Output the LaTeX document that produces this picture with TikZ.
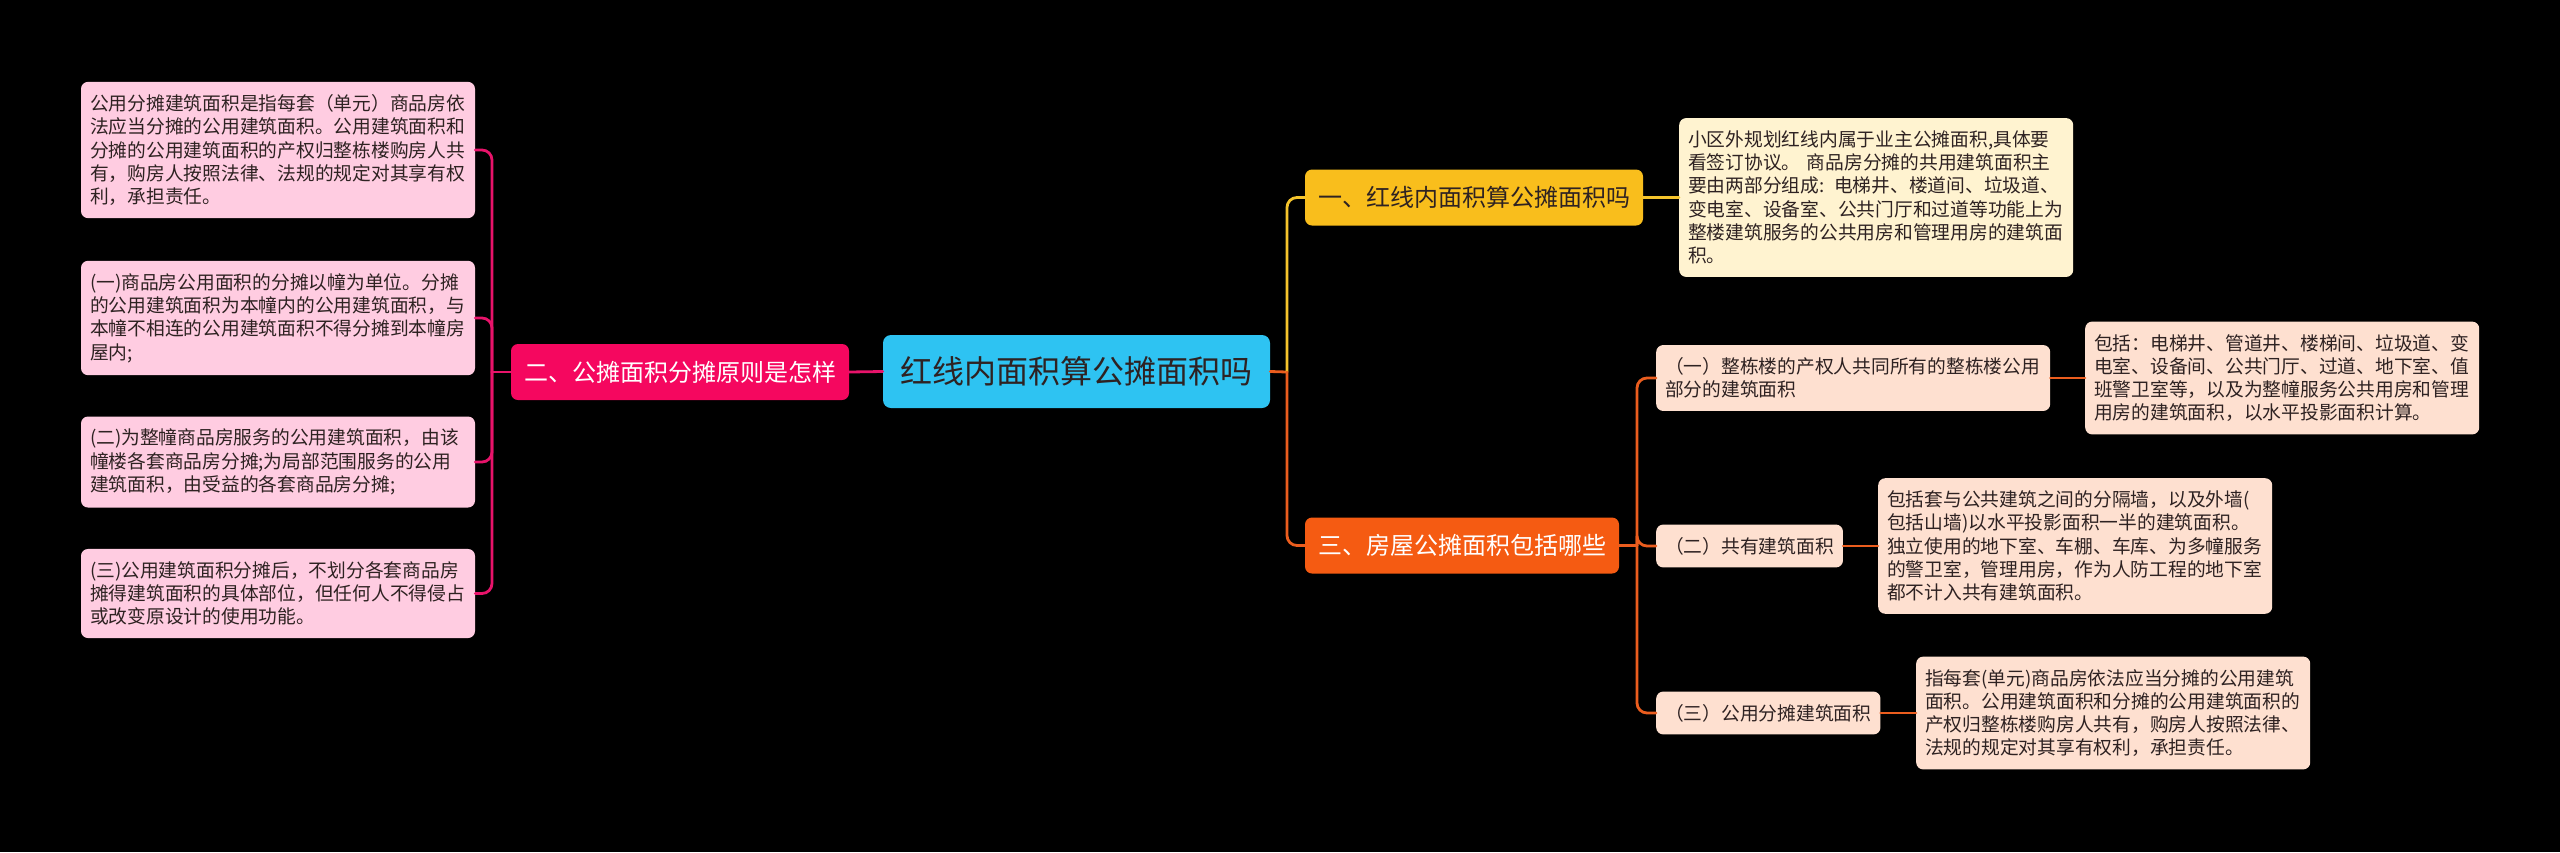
\documentclass[tikz,border=0pt]{standalone}
\usepackage{fontspec}
\setmainfont{Noto Sans CJK SC}
\definecolor{cyanc}{HTML}{2EC3F2}
\definecolor{pinkb}{HTML}{F5075F}
\definecolor{pinkl}{HTML}{E8136A}
\definecolor{pinkbox}{HTML}{FFCCE1}
\definecolor{yelb}{HTML}{F9BE1C}
\definecolor{yell}{HTML}{F5C42C}
\definecolor{yelbox}{HTML}{FFF3D0}
\definecolor{orab}{HTML}{F55B12}
\definecolor{oral}{HTML}{EB5D1E}
\definecolor{peach}{HTML}{FEE0D0}
\definecolor{darktxt}{HTML}{2E2222}
\tikzset{
  leafbox/.style={rounded corners=7, text width=376, inner xsep=9, inner ysep=12.5, align=left,
    font=\fontsize{18.75}{23.3}\selectfont, text=darktxt},
  pinkleaf/.style={leafbox, fill=pinkbox},
  yelleaf/.style={leafbox, fill=yelbox},
  peachleaf/.style={leafbox, fill=peach},
  subbox/.style={rounded corners=7, inner xsep=9, inner ysep=12.5, align=left,
    font=\fontsize{18.75}{23.3}\selectfont, text=darktxt, fill=peach},
  branchbox/.style={rounded corners=7, inner xsep=13, minimum height=56, font=\fontsize{24}{28}\selectfont},
  conn/.style={line width=2.8, line cap=round},
}
\begin{document}
\begin{tikzpicture}[x=1pt,y=-1pt]
\useasboundingbox (0,0) rectangle (2560,852);
\fill[black] (0,0) rectangle (2560,852);

% center
\node[rounded corners=8, fill=cyanc, text=darktxt, inner xsep=17.5, minimum height=73,
  font=\fontsize{32}{36}\selectfont] (c) at (1076.5,371.5) {红线内面积算公摊面积吗};

% branches
\node[branchbox, fill=pinkb, text=white] (p) at (680,372) {二、公摊面积分摊原则是怎样};
\node[branchbox, fill=yelb, text=darktxt] (y) at (1474,197.5) {一、红线内面积算公摊面积吗};
\node[branchbox, fill=orab, text=white] (o) at (1462,545.5) {三、房屋公摊面积包括哪些};

% left leaves
\node[pinkleaf] (l1) at (278,150) {公用分摊建筑面积是指每套（单元）商品房依\\法应当分摊的公用建筑面积。公用建筑面积和\\分摊的公用建筑面积的产权归整栋楼购房人共\\有，购房人按照法律、法规的规定对其享有权\\利，承担责任。};
\node[pinkleaf] (l2) at (278,318) {(一)商品房公用面积的分摊以幢为单位。分摊\\的公用建筑面积为本幢内的公用建筑面积，与\\本幢不相连的公用建筑面积不得分摊到本幢房\\屋内;};
\node[pinkleaf] (l3) at (278,462) {(二)为整幢商品房服务的公用建筑面积，由该\\幢楼各套商品房分摊;为局部范围服务的公用\\建筑面积，由受益的各套商品房分摊;};
\node[pinkleaf] (l4) at (278,593.5) {(三)公用建筑面积分摊后，不划分各套商品房\\摊得建筑面积的具体部位，但任何人不得侵占\\或改变原设计的使用功能。};

% yellow leaf
\node[yelleaf, anchor=west] (yl) at (1679,197.5) {小区外规划红线内属于业主公摊面积,具体要\\看签订协议。 商品房分摊的共用建筑面积主\\要由两部分组成: 电梯井、楼道间、垃圾道、\\变电室、设备室、公共门厅和过道等功能上为\\整楼建筑服务的公共用房和管理用房的建筑面\\积。};

% orange subs
\node[peachleaf, anchor=west] (s1) at (1656,378) {（一）整栋楼的产权人共同所有的整栋楼公用\\部分的建筑面积};
\node[subbox, anchor=west] (s2) at (1656,546) {（二）共有建筑面积};
\node[subbox, anchor=west] (s3) at (1656,713) {（三）公用分摊建筑面积};

\node[peachleaf, anchor=west] (f1) at (2085,378) {包括：电梯井、管道井、楼梯间、垃圾道、变\\电室、设备间、公共门厅、过道、地下室、值\\班警卫室等，以及为整幢服务公共用房和管理\\用房的建筑面积，以水平投影面积计算。};
\node[peachleaf, anchor=west] (f2) at (1878,546) {包括套与公共建筑之间的分隔墙，以及外墙(\\包括山墙)以水平投影面积一半的建筑面积。\\独立使用的地下室、车棚、车库、为多幢服务\\的警卫室，管理用房，作为人防工程的地下室\\都不计入共有建筑面积。};
\node[peachleaf, anchor=west] (f3) at (1916,713) {指每套(单元)商品房依法应当分摊的公用建筑\\面积。公用建筑面积和分摊的公用建筑面积的\\产权归整栋楼购房人共有，购房人按照法律、\\法规的规定对其享有权利，承担责任。};

% coordinates for buses
\coordinate (lb) at (492,372);
\coordinate (rb) at (1287,372);
\coordinate (ob) at (1637,545.5);

% connectors
\draw[conn, pinkl] (c.west) -- (p.east);
\draw[conn, pinkl] (p.west) -- (lb);
\foreach \n in {l1,l2,l3,l4} \draw[conn, pinkl, rounded corners=10] (lb) |- (\n.east);

\draw[conn, oral] (c.east) -- (rb);
\draw[conn, yell, rounded corners=10] (rb) |- (y.west);
\draw[conn, oral, rounded corners=10] (rb) |- (o.west);
\draw[conn, yell] (y.east) -- (yl.west);

\draw[conn, oral] (o.east) -- (ob);
\foreach \n in {s1,s2,s3} \draw[conn, oral, rounded corners=10] (ob) |- (\n.west);
\draw[conn, oral] (s1.east) -- (f1.west);
\draw[conn, oral] (s2.east) -- (f2.west);
\draw[conn, oral] (s3.east) -- (f3.west);
\end{tikzpicture}
\end{document}
